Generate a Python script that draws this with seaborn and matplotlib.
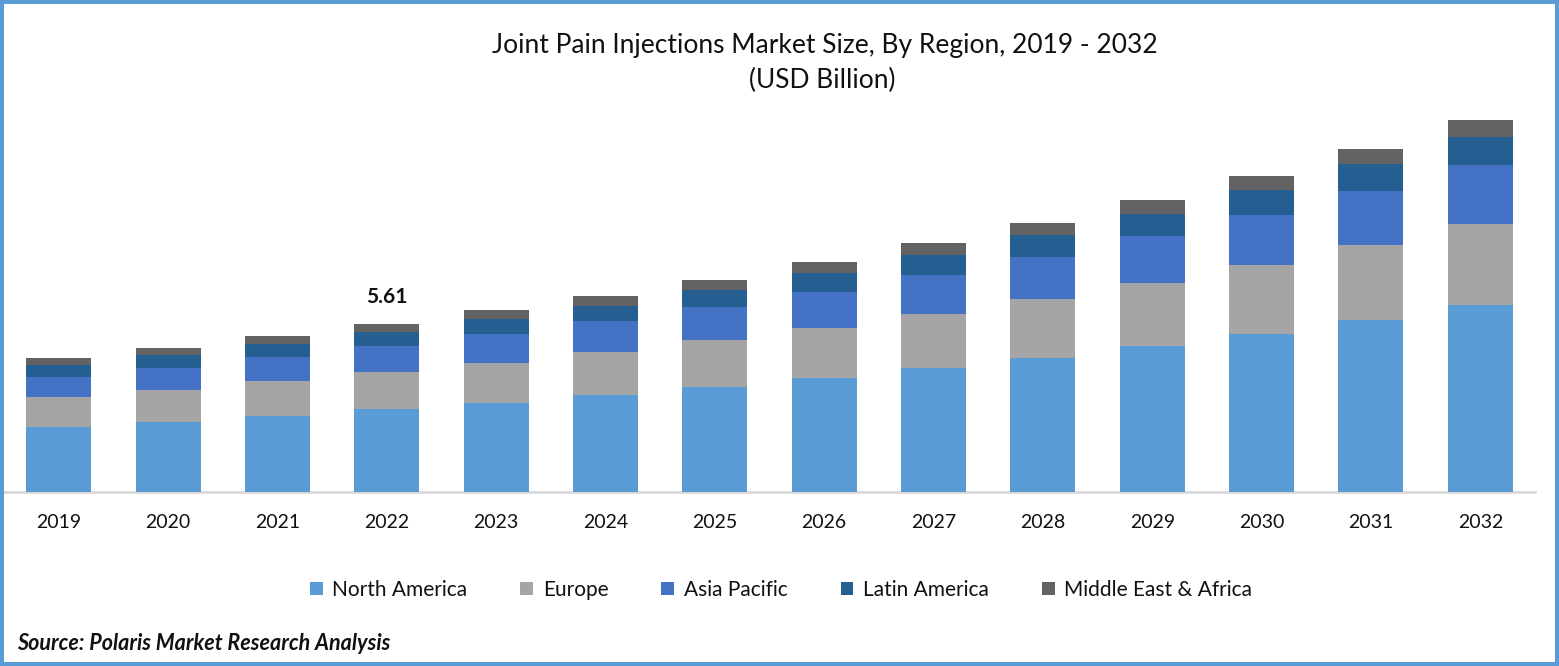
"""Joint pain injections market, stacked bars by region."""

import numpy as np
import pandas as pd
import matplotlib
matplotlib.use("Agg")
import matplotlib.pyplot as plt
from matplotlib.patches import Patch, Rectangle
import seaborn as sns

years = ["2019", "2020", "2021", "2022", "2023", "2024", "2025",
         "2026", "2027", "2028", "2029", "2030", "2031", "2032"]
regions = ["North America", "Europe", "Asia Pacific", "Latin America", "Middle East & Africa"]

north_america = [2.17, 2.34, 2.54, 2.77, 2.97, 3.24, 3.51, 3.81, 4.14, 4.47, 4.87, 5.28, 5.74, 6.24]
europe = [1.00, 1.07, 1.17, 1.23, 1.34, 1.44, 1.57, 1.67, 1.80, 1.97, 2.10, 2.30, 2.50, 2.70]
asia_pacific = [0.67, 0.73, 0.80, 0.87, 0.97, 1.04, 1.10, 1.20, 1.30, 1.40, 1.57, 1.67, 1.80, 1.97]
latin_america = [0.40, 0.43, 0.43, 0.47, 0.50, 0.50, 0.57, 0.63, 0.67, 0.73, 0.73, 0.83, 0.90, 0.93]
middle_east = [0.23, 0.23, 0.27, 0.27, 0.30, 0.33, 0.33, 0.37, 0.40, 0.40, 0.47, 0.47, 0.50, 0.57]

colors = ["#5B9BD5", "#A5A5A5", "#4472C4", "#255E91", "#636363"]

W, H = 1559, 666

sns.set_theme(style="white")
plt.rcParams["font.family"] = ["Lato", "DejaVu Sans"]

fig = plt.figure(figsize=(W / 100, H / 100), dpi=100, facecolor="white")
ax = fig.add_axes([4 / W, (H - 492) / H, 1531 / W, 392 / H])

# seaborn has no stacked barplot, so draw running totals from tallest to shortest
stack = np.cumsum([north_america, europe, asia_pacific, latin_america, middle_east], axis=0)
for k in range(len(regions) - 1, -1, -1):
    df = pd.DataFrame({"year": years, "total": stack[k]})
    sns.barplot(data=df, x="year", y="total", color=colors[k], width=0.594,
                saturation=1, linewidth=0, ax=ax, zorder=2 + (4 - k))

ax.set_xlim(-0.5, 13.5)
ax.set_ylim(0, 392 / 29.95)
ax.set_xlabel("")
ax.set_ylabel("")
ax.set_yticks([])
ax.tick_params(axis="x", length=0, pad=16, labelsize=14, labelcolor="#111111")
sns.despine(ax=ax, left=True)
ax.spines["bottom"].set_color("#D9D9D9")
ax.spines["bottom"].set_linewidth(2)
ax.patch.set_alpha(0)

ax.text(3, stack[-1][3] + 0.90, "5.61", ha="center", va="center",
        fontsize=15, fontweight="bold", color="#111111")

fig.text(824.5 / W, 1 - 45 / H, "Joint Pain Injections Market Size, By Region, 2019 - 2032",
         ha="center", va="center", fontsize=19, color="#111111")
fig.text(822 / W, 1 - 80 / H, "(USD Billion)",
         ha="center", va="center", fontsize=19, color="#111111")
fig.text(17 / W, 1 - 643 / H, "Source: Polaris Market Research Analysis",
         ha="left", va="center", fontsize=15.5, fontweight="bold", style="italic", color="#111111")

handles = [Patch(facecolor=c, edgecolor="none") for c in colors]
fig.legend(handles, regions, loc="center", bbox_to_anchor=(781 / W, 1 - 590 / H), ncol=5,
           frameon=False, fontsize=15, handlelength=0.62, handleheight=0.62,
           handletextpad=0.45, columnspacing=2.55, labelcolor="#111111")

# blue frame around the whole picture
fig.add_artist(Rectangle((2 / W, 2 / H), (W - 4) / W, (H - 4) / H, transform=fig.transFigure,
                         fill=False, edgecolor="#5B9BD5", linewidth=2.9))

fig.savefig("out.png", dpi=100)
